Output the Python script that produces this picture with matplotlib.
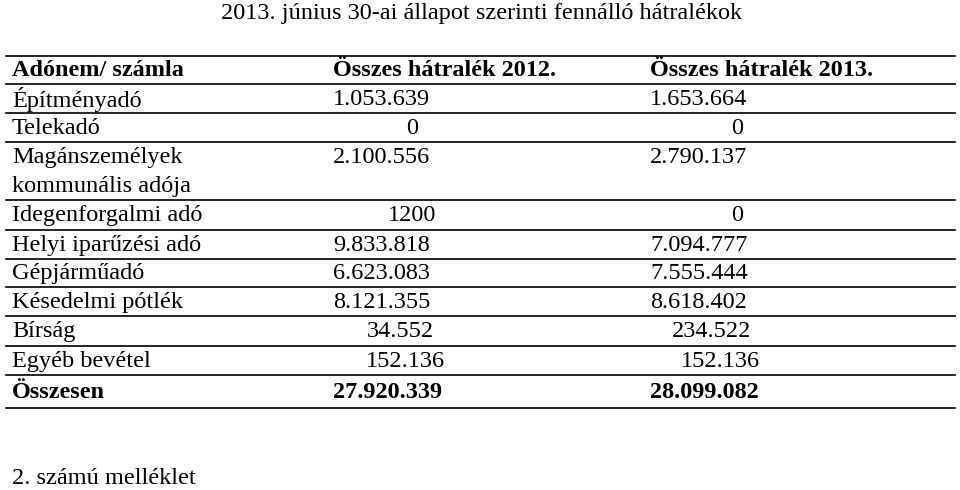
import matplotlib
matplotlib.use("Agg")
import matplotlib.pyplot as plt

title = "2013. június 30-ai állapot szerinti fennálló hátralékok"
headers = ["Adónem/ számla", "Összes hátralék 2012.", "Összes hátralék 2013."]
categories = ["Építményadó", "Telekadó", "Magánszemélyek\nkommunális adója",
              "Idegenforgalmi adó", "Helyi iparűzési adó", "Gépjárműadó",
              "Késedelmi pótlék", "Bírság", "Egyéb bevétel"]
values_2012 = ["1.053.639", "0", "2.100.556", "1200", "9.833.818", "6.623.083",
               "8.121.355", "34.552", "152.136"]
values_2013 = ["1.653.664", "0", "2.790.137", "0", "7.094.777", "7.555.444",
               "8.618.402", "234.522", "152.136"]
total_label = "Összesen"
total_2012 = "27.920.339"
total_2013 = "28.099.082"
footer = "2. számú melléklet"

fig = plt.figure(figsize=(9.6, 4.9), dpi=100)
ax = fig.add_axes([0, 0, 1, 1])
ax.set_xlim(0, 960); ax.set_ylim(490, 0); ax.axis("off")
fs = 17.5
font = "Liberation Serif"
ax.text(482, 13, title, ha="center", va="center", fontsize=fs, family=font)

lines_y = [56, 84, 113, 142, 200, 230, 259, 287, 316, 346, 375, 408]
for y in lines_y:
    ax.plot([6, 955], [y, y], color="black", lw=1.2)

row_y = [99, 128, 171, 215, 245, 273, 302, 331, 361]
col2_mode = [("l", 333), ("c", 412), ("l", 333), ("c", 412), ("l", 333), ("l", 333), ("l", 333), ("c", 400), ("c", 405)]
col3_mode = [("l", 650), ("c", 737), ("l", 650), ("c", 737), ("l", 650), ("l", 650), ("l", 650), ("c", 712), ("c", 720)]

ax.text(12, 70, headers[0], fontsize=fs, family=font, weight="bold", va="center")
ax.text(333, 70, headers[1], fontsize=fs, family=font, weight="bold", va="center")
ax.text(650, 70, headers[2], fontsize=fs, family=font, weight="bold", va="center")

for i, cat in enumerate(categories):
    y = row_y[i]
    if "\n" in cat:
        a, b = cat.split("\n")
        ax.text(12, 157, a, fontsize=fs, family=font, va="center")
        ax.text(12, 186, b, fontsize=fs, family=font, va="center")
        vy = 157
    else:
        ax.text(12, y, cat, fontsize=fs, family=font, va="center")
        vy = y
    for val, (m, x) in ((values_2012[i], col2_mode[i]), (values_2013[i], col3_mode[i])):
        ax.text(x, vy, val, fontsize=fs, family=font, va="center",
                ha="left" if m == "l" else "center")

ax.text(12, 392, total_label, fontsize=fs, family=font, weight="bold", va="center")
ax.text(333, 392, total_2012, fontsize=fs, family=font, weight="bold", va="center")
ax.text(650, 392, total_2013, fontsize=fs, family=font, weight="bold", va="center")
ax.text(12, 478, footer, fontsize=fs, family=font, va="center")

fig.savefig("out.png", dpi=100)
